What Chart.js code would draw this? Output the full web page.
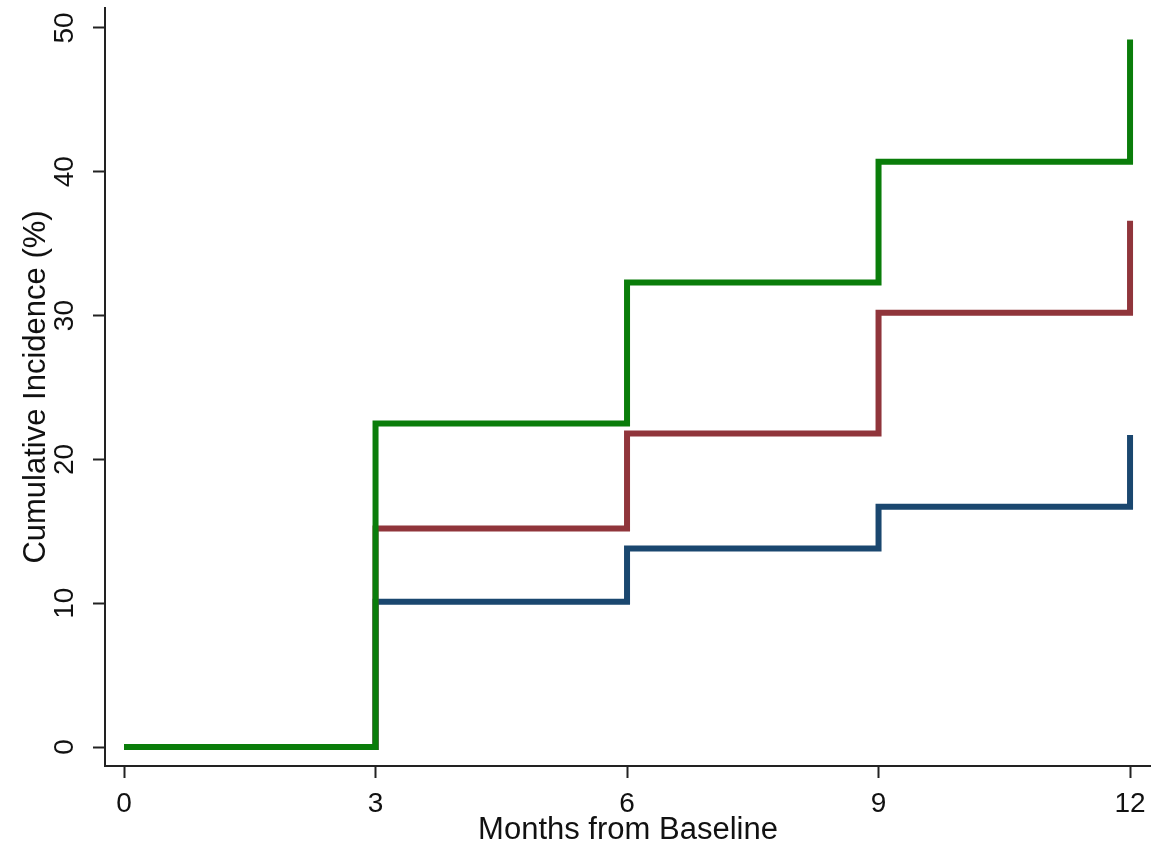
<!DOCTYPE html>
<html>
<head>
<meta charset="utf-8">
<script src="https://cdn.jsdelivr.net/npm/chart.js@4/dist/chart.umd.min.js"></script>
<style>
  html, body { margin: 0; padding: 0; background: #ffffff; }
  #wrap { width: 1151px; height: 850px; }
</style>
</head>
<body>
<div id="wrap"><canvas id="chart" width="1151" height="850"></canvas></div>
<script>
// Follow-up visits (months) and cumulative incidence (%) per group
const months = [0, 3, 6, 9, 12];
const incidenceGreen = [0, 22.5, 32.3, 40.7, 49.2];
const incidenceRed = [0, 15.2, 21.8, 30.2, 36.6];
const incidenceBlue = [0, 10.1, 13.8, 16.7, 21.7];

const xTicks = [0, 3, 6, 9, 12];
const yTicks = [0, 10, 20, 30, 40, 50];
const xTitle = 'Months from Baseline';
const yTitle = 'Cumulative Incidence (%)';

const FONT = "'Liberation Sans', Arial, Helvetica, sans-serif";
const AXIS_COLOR = '#222222';
const TEXT_COLOR = '#111111';

function toPoints(values) {
  return months.map((m, i) => ({ x: m, y: values[i] }));
}

function stepSeries(label, values, color) {
  return {
    label: label,
    data: toPoints(values),
    borderColor: color,
    backgroundColor: color,
    borderWidth: 6,
    stepped: 'before',
    pointRadius: 0,
    fill: false,
    borderJoinStyle: 'miter',
    borderCapStyle: 'butt'
  };
}

// Rotated y tick labels (drawn upright along the axis)
const rotatedYLabels = {
  id: 'rotatedYLabels',
  afterDraw(chart) {
    const ctx = chart.ctx;
    const y = chart.scales.y;
    ctx.save();
    ctx.fillStyle = TEXT_COLOR;
    ctx.font = '28px ' + FONT;
    ctx.textAlign = 'center';
    ctx.textBaseline = 'middle';
    yTicks.forEach(v => {
      const py = y.getPixelForValue(v);
      ctx.save();
      ctx.translate(65, py);
      ctx.rotate(-Math.PI / 2);
      ctx.fillText(String(v), 0, 0);
      ctx.restore();
    });
    ctx.restore();
  }
};

new Chart(document.getElementById('chart'), {
  type: 'line',
  data: {
    datasets: [
      stepSeries('Group C', incidenceGreen, '#0a7d0a'),
      stepSeries('Group B', incidenceRed, '#90353b'),
      stepSeries('Group A', incidenceBlue, '#1a476f')
    ]
  },
  options: {
    responsive: false,
    animation: false,
    layout: { padding: { top: 8, right: 0, left: 0, bottom: 0 } },
    plugins: {
      legend: { display: false },
      tooltip: { enabled: false }
    },
    scales: {
      x: {
        type: 'linear',
        min: -0.227,
        max: 12.25,
        afterBuildTicks(scale) {
          scale.ticks = xTicks.map(v => ({ value: v }));
        },
        afterFit(scale) {
          scale.height = 84;
          scale.paddingLeft = 0;
          scale.paddingRight = 0;
        },
        border: { display: true, color: AXIS_COLOR, width: 2 },
        grid: {
          display: true,
          drawOnChartArea: false,
          drawTicks: true,
          tickLength: 12,
          tickWidth: 2,
          color: AXIS_COLOR
        },
        ticks: {
          color: TEXT_COLOR,
          font: { family: FONT, size: 28 },
          padding: 9,
          maxRotation: 0,
          minRotation: 0
        },
        title: {
          display: true,
          text: xTitle,
          color: TEXT_COLOR,
          font: { family: FONT, size: 31 },
          padding: { top: 0, bottom: 1 }
        }
      },
      y: {
        type: 'linear',
        min: -1.32,
        max: 51.39,
        afterBuildTicks(scale) {
          scale.ticks = yTicks.map(v => ({ value: v }));
        },
        afterFit(scale) {
          scale.width = 105;
          scale.paddingTop = 0;
          scale.paddingBottom = 0;
        },
        border: { display: true, color: AXIS_COLOR, width: 2 },
        grid: {
          display: true,
          drawOnChartArea: false,
          drawTicks: true,
          tickLength: 12,
          tickWidth: 2,
          color: AXIS_COLOR
        },
        ticks: { display: false },
        title: {
          display: true,
          text: yTitle,
          color: TEXT_COLOR,
          font: { family: FONT, size: 31 },
          padding: { top: 18, bottom: 0 }
        }
      }
    }
  },
  plugins: [rotatedYLabels]
});
</script>
</body>
</html>
